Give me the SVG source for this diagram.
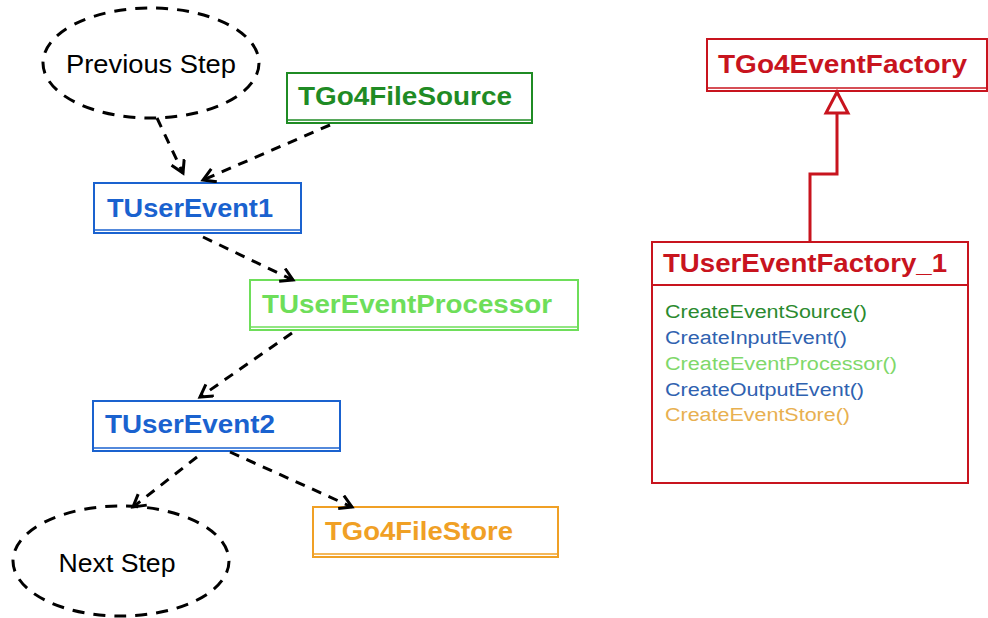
<svg xmlns="http://www.w3.org/2000/svg" width="988" height="618" viewBox="0 0 988 618">
<defs>
<style>
.bx{fill:#fff;stroke-width:2}
.in{stroke-width:1.5}
.t{font-family:"Liberation Sans",Arial,sans-serif;font-weight:bold;font-size:26px}
.m{font-family:"Liberation Sans",Arial,sans-serif;font-size:18px}
.el{fill:#fff;stroke:#000;stroke-width:3;stroke-dasharray:12 9}
.c{fill:none;stroke:#000;stroke-width:3;stroke-dasharray:10 8}
</style>
<marker id="ah" markerUnits="userSpaceOnUse" markerWidth="30" markerHeight="30" refX="14" refY="8" orient="auto" viewBox="0 0 30 30">
<path d="M2,1 L14,8 L2,15" fill="none" stroke="#000" stroke-width="3"/>
</marker>
</defs>
<rect width="988" height="618" fill="#fff"/>

<g id="prev">
<ellipse class="el" cx="151" cy="63" rx="108" ry="55"/>
<text class="m" x="151" y="73" text-anchor="middle" style="font-size:26px" textLength="170" lengthAdjust="spacingAndGlyphs">Previous Step</text>
</g>

<g id="filesource">
<rect class="bx" x="287" y="73" width="245" height="50" stroke="#1f8b24"/>
<line class="in" x1="287" y1="120" x2="532" y2="120" stroke="#1f8b24"/>
<text class="t" x="298" y="105" fill="#1f8b24" textLength="214" lengthAdjust="spacingAndGlyphs">TGo4FileSource</text>
</g>

<g id="event1">
<rect class="bx" x="94" y="183" width="207" height="50" stroke="#1a62cf"/>
<line class="in" x1="94" y1="230" x2="301" y2="230" stroke="#1a62cf"/>
<text class="t" x="107" y="217" fill="#1a62cf" textLength="166" lengthAdjust="spacingAndGlyphs">TUserEvent1</text>
</g>

<g id="processor">
<rect class="bx" x="250" y="280" width="328" height="50" stroke="#6ede5a"/>
<line class="in" x1="250" y1="327" x2="578" y2="327" stroke="#6ede5a"/>
<text class="t" x="262" y="313" fill="#6ede5a" textLength="290" lengthAdjust="spacingAndGlyphs">TUserEventProcessor</text>
</g>

<g id="event2">
<rect class="bx" x="93" y="401" width="247" height="50" stroke="#1a62cf"/>
<line class="in" x1="93" y1="448" x2="340" y2="448" stroke="#1a62cf"/>
<text class="t" x="105" y="433" fill="#1a62cf" textLength="170" lengthAdjust="spacingAndGlyphs">TUserEvent2</text>
</g>

<g id="filestore">
<rect class="bx" x="313" y="507" width="245" height="50" stroke="#f0a025"/>
<line class="in" x1="313" y1="554" x2="558" y2="554" stroke="#f0a025"/>
<text class="t" x="325" y="540" fill="#f0a025" textLength="188" lengthAdjust="spacingAndGlyphs">TGo4FileStore</text>
</g>

<g id="next">
<ellipse class="el" cx="121" cy="561" rx="108" ry="55"/>
<text class="m" x="117" y="572" text-anchor="middle" style="font-size:26px" textLength="117" lengthAdjust="spacingAndGlyphs">Next Step</text>
</g>

<g id="eventfactory">
<rect class="bx" x="707" y="39" width="280" height="52" stroke="#c8141e"/>
<line class="in" x1="707" y1="88" x2="987" y2="88" stroke="#c8141e"/>
<text class="t" x="718" y="73" fill="#c8141e" textLength="249" lengthAdjust="spacingAndGlyphs">TGo4EventFactory</text>
</g>

<g id="userfactory">
<rect x="652" y="242" width="316" height="241" fill="#fff" stroke="#c8141e" stroke-width="2"/>
<line x1="652" y1="285" x2="968" y2="285" stroke="#c8141e" stroke-width="2"/>
<text class="t" x="663" y="272" fill="#c8141e" textLength="284" lengthAdjust="spacingAndGlyphs">TUserEventFactory_1</text>
<text class="m" x="665" y="318" fill="#2a8a2e" textLength="202" lengthAdjust="spacingAndGlyphs">CreateEventSource()</text>
<text class="m" x="665" y="344" fill="#2f62b0" textLength="182" lengthAdjust="spacingAndGlyphs">CreateInputEvent()</text>
<text class="m" x="665" y="370" fill="#7fd86a" textLength="232" lengthAdjust="spacingAndGlyphs">CreateEventProcessor()</text>
<text class="m" x="665" y="396" fill="#2f62b0" textLength="199" lengthAdjust="spacingAndGlyphs">CreateOutputEvent()</text>
<text class="m" x="665" y="421" fill="#e8b050" textLength="185" lengthAdjust="spacingAndGlyphs">CreateEventStore()</text>
</g>

<g id="connectors">
<path class="c" d="M157,118 L183,173" marker-end="url(#ah)"/>
<path class="c" d="M330,125 L203,180" marker-end="url(#ah)"/>
<path class="c" d="M203,237 L293,280" marker-end="url(#ah)"/>
<path class="c" d="M292,333 L200,397" marker-end="url(#ah)"/>
<path class="c" d="M197,457 L133,507" marker-end="url(#ah)"/>
<path class="c" d="M230,452 L352,507" marker-end="url(#ah)"/>
<path d="M837,113 V174 H810 V242" fill="none" stroke="#c8141e" stroke-width="3"/>
<polygon points="837,92 826,113 848,113" fill="#fff" stroke="#c8141e" stroke-width="3"/>
</g>
</svg>
